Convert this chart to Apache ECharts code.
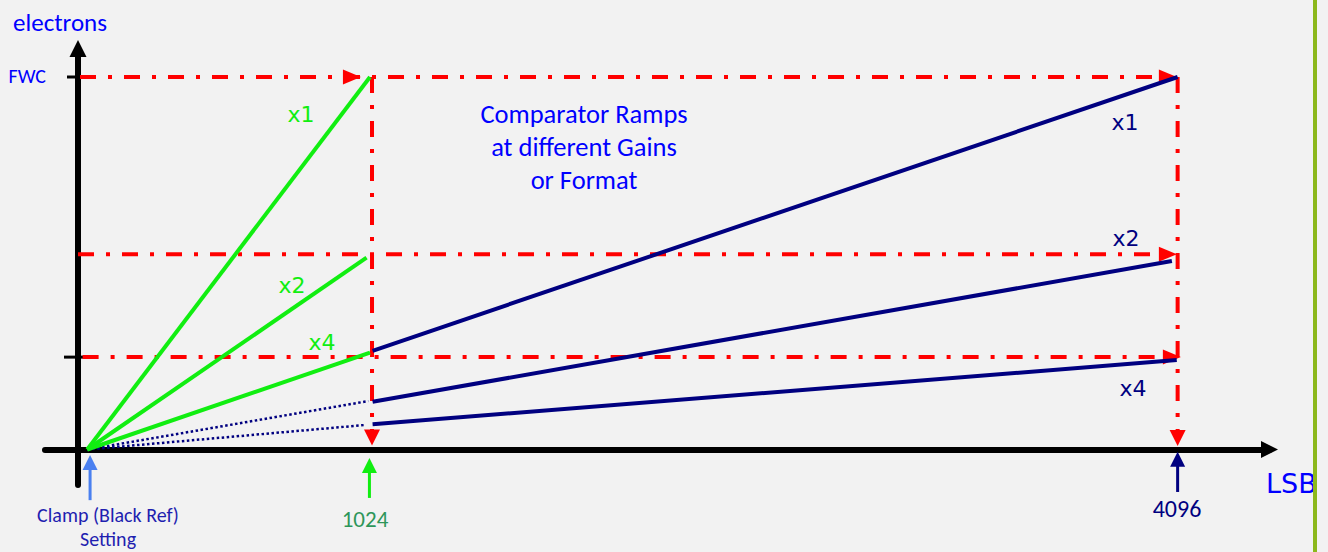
<!DOCTYPE html>
<html>
<head>
<meta charset="utf-8">
<script src="https://cdn.jsdelivr.net/npm/echarts@6/dist/echarts.min.js"></script>
<style>
html,body{margin:0;padding:0;background:#f2f2f2;}
#c{width:1328px;height:552px;}
</style>
</head>
<body>
<div id="c"></div>
<script>
// ---------------- data (schematic, x in LSB, y in fraction of FWC) ----------------
const gainLabels = ['x1', 'x2', 'x4'];
const clampLSB = 32;                       // ramp origin (black-level clamp)
const xMarkPositions = [1024, 3830];       // where the 1024 / 4096 marks are drawn
const xMarkLabels = ['1024', '4096'];
const yTickValues = [1.0, 0.248];
const yTickLabels = ['FWC', ''];
const refLevels = [1.0, 0.524, 0.248];     // red reference levels
const refLineStartX = [7, 0, 16];
const refVerticalEndY = 0.05;
const greenEndX = [1017, 1005, 1017];
const greenEndY = [1.0, 0.515, 0.26];
const navyStartX = [1026, 1026, 1026];
const navyStartY = [0.265, 0.128, 0.068];
const navyEndX = [3830, 3810, 3827];
const navyEndY = [1.0, 0.506, 0.240];
const dottedEndX = [1011, 1003];           // extensions of x2, x4 back to clamp
const dottedEndY = [0.130, 0.066];
const rightArrowX = [954, 3796, 3796, 3810];
const rightArrowY = [1.0, 1.0, 0.524, 0.248];
const downArrowY = [0.032, 0.031];
const markerArrowX = [42, 1015, 3830];
const markerArrowHeadY = [-0.035, -0.043, -0.026];
const markerArrowTailY = [-0.136, -0.130, -0.114];

// ---------------- styles ----------------
const RED = '#ff0000', GREEN = '#11ee11', NAVY = '#000080', BLUE = '#0000ff';
const markerColors = ['#4a80f0', GREEN, NAVY];
const DASHDOT = [16, 12, 4, 12];
const SANS = 'Calibri, Carlito, Lato, sans-serif';
const COMIC = '"Comic Sans MS", "DejaVu Sans", sans-serif';

function seg(points, color, width, type, z, clip) {
  return {
    type: 'line', data: points, symbol: 'none', showSymbol: false, silent: true,
    clip: clip !== false, z: z, animation: false,
    lineStyle: { color: color, width: width, type: type, cap: 'butt' }
  };
}

const series = [];
// red dash-dot reference lines
refLevels.forEach((y, i) => series.push(seg([[refLineStartX[i], y], [xMarkPositions[1], y]], RED, 4, DASHDOT, 2)));
xMarkPositions.forEach(x => series.push(seg([[x, refLevels[0]], [x, refVerticalEndY]], RED, 4, DASHDOT, 2)));
// red arrowheads
series.push({
  type: 'scatter', silent: true, z: 3, animation: false,
  data: rightArrowX.map((x, i) => [x, rightArrowY[i]]),
  symbol: 'triangle', symbolSize: [15, 18], symbolRotate: -90,
  itemStyle: { color: RED, opacity: 1 }
});
series.push({
  type: 'scatter', silent: true, z: 3, animation: false,
  data: xMarkPositions.map((x, i) => [x, downArrowY[i]]),
  symbol: 'triangle', symbolSize: [16, 16], symbolRotate: 180,
  itemStyle: { color: RED, opacity: 1 }
});
// navy dotted extensions
dottedEndX.forEach((x, j) => series.push(seg([[clampLSB, 0], [x, dottedEndY[j]]], NAVY, 2.5, [2.5, 2.5], 4)));
// green ramps (1024 range)
gainLabels.forEach((g, i) => series.push(seg([[clampLSB, 0], [greenEndX[i], greenEndY[i]]], GREEN, 4, 'solid', 5)));
// navy ramps (4096 range)
gainLabels.forEach((g, i) => series.push(seg([[navyStartX[i], navyStartY[i]], [navyEndX[i], navyEndY[i]]], NAVY, 4, 'solid', 5)));
// marker arrows below the x axis
markerArrowX.forEach((x, i) => {
  series.push(seg([[x, markerArrowHeadY[i]], [x, markerArrowTailY[i]]], markerColors[i], 3, 'solid', 5, false));
  series.push({
    type: 'scatter', silent: true, z: 5, animation: false, clip: false,
    data: [[x, markerArrowHeadY[i]]],
    symbol: 'triangle', symbolSize: [15, 15],
    itemStyle: { color: markerColors[i], opacity: 1 }
  });
});
// y-axis ticks
const tickExtent = [[11, 0], [14, 14]];
series.push({
  type: 'custom', coordinateSystem: 'cartesian2d', silent: true, z: 1, animation: false,
  data: yTickValues.map(v => [0, v]),
  renderItem: function (params, api) {
    const p = api.coord([api.value(0), api.value(1)]);
    const e = tickExtent[params.dataIndex];
    return { type: 'line', shape: { x1: p[0] - e[0], y1: p[1], x2: p[0] + e[1], y2: p[1] },
             style: { stroke: '#000', lineWidth: 3 } };
  }
});

function txt(text, x, y, color, size, family, align, extra) {
  return { type: 'text', x: x, y: y, z: 100, silent: true,
    style: Object.assign({ text: text, fill: color, fontSize: size, fontFamily: family,
      textAlign: align || 'center', textVerticalAlign: 'middle' }, extra || {}) };
}

const chart = echarts.init(document.getElementById('c'), null, { renderer: 'svg', width: 1328, height: 552 });
chart.setOption({
  backgroundColor: '#f2f2f2',
  animation: false,
  grid: { left: 45, right: 58.5, top: 48.5, bottom: 67, containLabel: false },
  xAxis: {
    type: 'value', min: -115, max: 4150,
    axisLine: { onZero: true, symbol: ['none', 'triangle'], symbolSize: [17, 17], lineStyle: { color: '#000', width: 6 } },
    axisTick: { show: false }, axisLabel: { show: false }, splitLine: { show: false }
  },
  yAxis: {
    type: 'value', min: -0.0953, max: 1.0765,
    axisLine: { onZero: true, symbol: ['none', 'triangle'], symbolSize: [17, 17], lineStyle: { color: '#000', width: 6 } },
    axisTick: { show: false }, axisLabel: { show: false }, splitLine: { show: false }
  },
  series: series,
  graphic: [
    txt('electrons', 60, 22, BLUE, 25, SANS),
    txt(yTickLabels[0], 46, 76, BLUE, 20, SANS, 'right'),
    txt('Comparator Ramps\nat different Gains\nor Format', 584, 147, BLUE, 26.5, SANS, 'center', { lineHeight: 33 }),
    txt(gainLabels[0], 301, 114, GREEN, 22, COMIC),
    txt(gainLabels[1], 292, 285, GREEN, 22, COMIC),
    txt(gainLabels[2], 322, 342, GREEN, 22, COMIC),
    txt(gainLabels[0], 1125, 122, NAVY, 22, COMIC),
    txt(gainLabels[1], 1126, 238, NAVY, 22, COMIC),
    txt(gainLabels[2], 1133, 388, NAVY, 22, COMIC),
    txt('LSB', 1266, 483, BLUE, 27, COMIC, 'left'),
    txt('Clamp (Black Ref)', 108, 515, '#1f1fb0', 20, SANS),
    txt('Setting', 108, 539, '#1f1fb0', 20, SANS),
    txt(xMarkLabels[0], 365, 519, '#2e965a', 23, SANS),
    txt(xMarkLabels[1], 1177, 508, NAVY, 24, SANS),
    { type: 'rect', z: 200, silent: true, shape: { x: 1313, y: 0, width: 4, height: 552 }, style: { fill: '#8cb81c' } }
  ]
});
</script>
</body>
</html>
